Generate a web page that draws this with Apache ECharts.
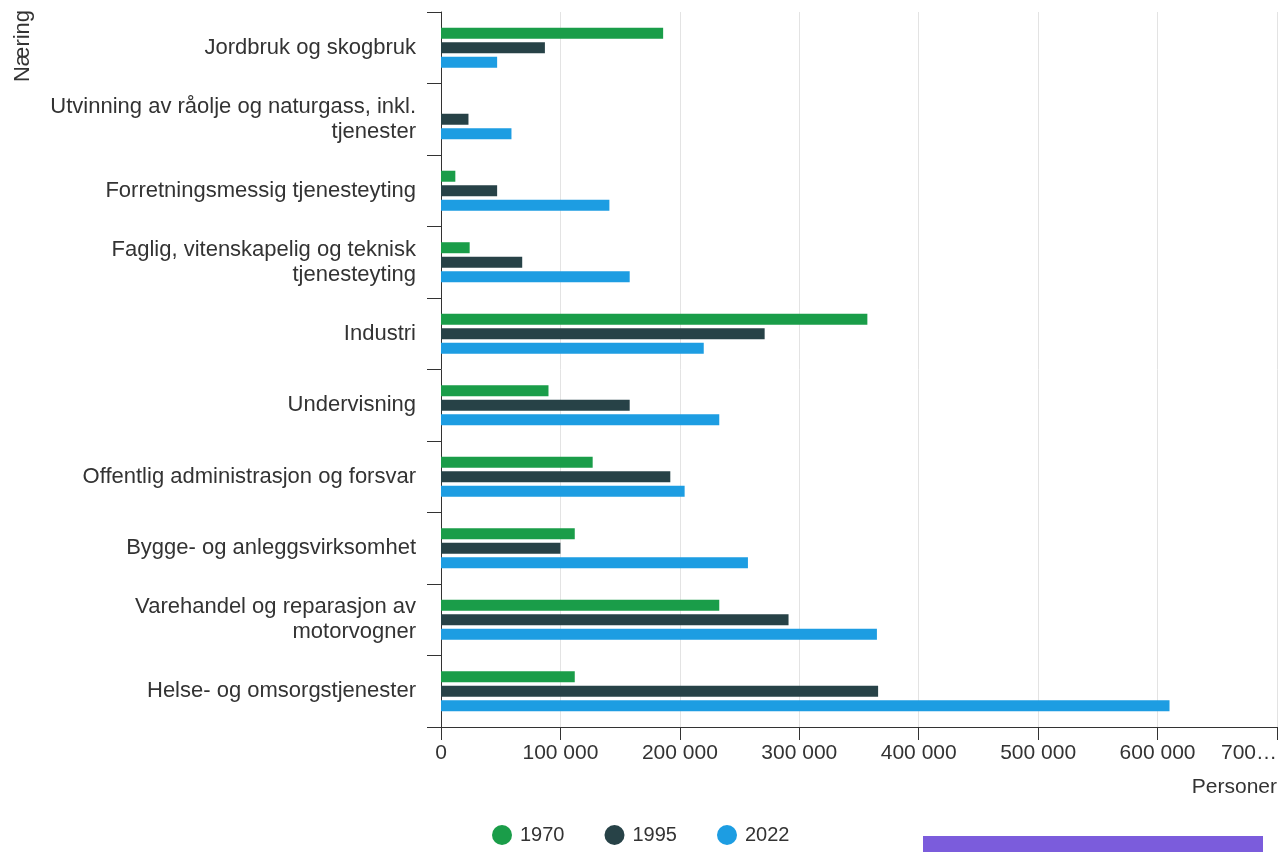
<!DOCTYPE html>
<html>
<head>
<meta charset="utf-8">
<script src="https://cdn.jsdelivr.net/npm/echarts@6/dist/echarts.min.js"></script>
<style>
html,body{margin:0;padding:0;background:#fff;}
#chart{width:1280px;height:852px;}
</style>
</head>
<body>
<div id="chart"></div>
<script>
const categories = [
  'Jordbruk og skogbruk',
  'Utvinning av råolje og naturgass, inkl. tjenester',
  'Forretningsmessig tjenesteyting',
  'Faglig, vitenskapelig og teknisk tjenesteyting',
  'Industri',
  'Undervisning',
  'Offentlig administrasjon og forsvar',
  'Bygge- og anleggsvirksomhet',
  'Varehandel og reparasjon av motorvogner',
  'Helse- og omsorgstjenester'
];
const seriesNames = ['1970', '1995', '2022'];
const values1970 = [186000, 0, 12000, 24000, 357000, 90000, 127000, 112000, 233000, 112000];
const values1995 = [87000, 23000, 47000, 68000, 271000, 158000, 192000, 100000, 291000, 366000];
const values2022 = [47000, 59000, 141000, 158000, 220000, 233000, 204000, 257000, 365000, 610000];
const xTickLabels = ['0', '100 000', '200 000', '300 000', '400 000', '500 000', '600 000', '700…'];
const colors = ['#1a9d49', '#274247', '#1d9de2'];

const font = 'Liberation Sans, Arial, sans-serif';
const catFontSize = 22;
const wrapWidth = 385;

// word-wrap label text without trailing spaces
const ctx = document.createElement('canvas').getContext('2d');
ctx.font = catFontSize + 'px ' + font;
function wrap(text) {
  const words = text.split(' ');
  const lines = [];
  let cur = '';
  for (const w of words) {
    const trial = cur ? cur + ' ' + w : w;
    if (cur && ctx.measureText(trial).width > wrapWidth) {
      lines.push(cur);
      cur = w;
    } else {
      cur = trial;
    }
  }
  if (cur) lines.push(cur);
  return lines.join('\n');
}

const chart = echarts.init(document.getElementById('chart'));
const allValues = [values1970, values1995, values2022];

chart.setOption({
  animation: false,
  textStyle: { fontFamily: font },
  color: colors,
  grid: { left: 441, right: 3, top: 12, bottom: 125, containLabel: false, outerBoundsMode: 'none' },
  legend: {
    bottom: 2,
    left: 487,
    icon: 'circle',
    itemWidth: 20,
    itemHeight: 20,
    itemGap: 40,
    textStyle: { fontSize: 20, color: '#333', fontFamily: font, padding: [0, 0, 0, 3] },
    data: seriesNames
  },
  xAxis: {
    type: 'value',
    min: 0,
    max: 700000,
    interval: 100000,
    name: 'Personer',
    nameLocation: 'end',
    nameGap: 0,
    nameTextStyle: { fontSize: 21, color: '#333', align: 'right', verticalAlign: 'top', padding: [50, 0, 0, 0] },
    axisLine: { show: true, lineStyle: { color: '#333', width: 1 } },
    axisTick: { show: true, length: 13, lineStyle: { color: '#333' } },
    axisLabel: {
      fontSize: 21, color: '#333', margin: 16, hideOverlap: false,
      alignMaxLabel: 'right',
      formatter: v => xTickLabels[Math.round(v / 100000)]
    },
    splitLine: { show: true, lineStyle: { color: '#e3e3e3', width: 1 } }
  },
  yAxis: {
    type: 'category',
    inverse: true,
    data: categories,
    axisLine: { show: true, lineStyle: { color: '#333', width: 1 } },
    axisTick: { show: true, length: 14, lineStyle: { color: '#333' } },
    axisLabel: {
      fontSize: catFontSize, color: '#333', margin: 25,
      lineHeight: 25, align: 'right',
      formatter: v => wrap(v)
    },
    splitLine: { show: false }
  },
  graphic: [
    {
      type: 'text',
      x: 23, y: 46,
      rotation: Math.PI / 2,
      style: { text: 'Næring', font: '22px ' + font, fill: '#333', textAlign: 'center', textVerticalAlign: 'middle' }
    },
    {
      type: 'rect',
      shape: { x: 923, y: 836, width: 340, height: 20 },
      style: { fill: '#7b5cdc' }
    }
  ],
  series: seriesNames.map((n, i) => ({
    name: n,
    type: 'bar',
    data: allValues[i],
    barWidth: 11,
    barGap: '32%',
    itemStyle: { color: colors[i] }
  }))
});
</script>
</body>
</html>
